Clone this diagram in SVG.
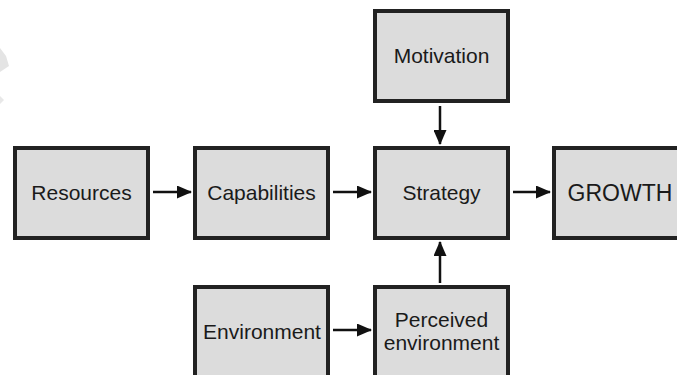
<svg xmlns="http://www.w3.org/2000/svg" width="677" height="375" viewBox="0 0 677 375">
<style>
.box{fill:#dcdcdc;stroke:#222;stroke-width:4}
.lbl{font-family:"Liberation Sans",Arial,sans-serif;font-size:21px;fill:#1a1a1a;text-anchor:middle}
.big{font-size:23px}
.edge{stroke:#111;stroke-width:2.5;fill:none;marker-end:url(#ah)}
</style>
<defs>
<marker id="ah" viewBox="0 0 15 13" refX="14" refY="6.5" markerWidth="15" markerHeight="13" markerUnits="userSpaceOnUse" orient="auto">
<path d="M0,0 L15,6.5 L0,13 Z" fill="#111"/>
</marker>
</defs>
<rect width="677" height="375" fill="#fff"/>
<path d="M0,48 L6,56 L9,66 L0,72 Z" fill="#e4e4e4"/>
<path d="M0,96 L4,100 L0,104 Z" fill="#e8e8e8"/>
<g id="resources"><rect class="box" x="15" y="148" width="133" height="90"/><text class="lbl" x="81.5" y="200">Resources</text></g>
<g id="capabilities"><rect class="box" x="195" y="148" width="133" height="90"/><text class="lbl" x="261.5" y="200">Capabilities</text></g>
<g id="strategy"><rect class="box" x="375" y="148" width="133" height="90"/><text class="lbl" x="441.5" y="200">Strategy</text></g>
<g id="growth"><rect class="box" x="554" y="148" width="133" height="90"/><text class="lbl big" x="620" y="201">GROWTH</text></g>
<g id="motivation"><rect class="box" x="375" y="11" width="133" height="90"/><text class="lbl" x="441.5" y="63">Motivation</text></g>
<g id="environment"><rect class="box" x="195" y="287" width="133" height="90"/><text class="lbl" x="262" y="339">Environment</text></g>
<g id="perceived"><rect class="box" x="375" y="287" width="133" height="90"/><text class="lbl" x="441.5" y="327">Perceived</text><text class="lbl" x="441.5" y="350">environment</text></g>
<g id="connectors">
<line class="edge" x1="153" y1="192" x2="191" y2="192"/>
<line class="edge" x1="333" y1="192" x2="371" y2="192"/>
<line class="edge" x1="513" y1="192" x2="550" y2="192"/>
<line class="edge" x1="440" y1="106" x2="440" y2="144"/>
<line class="edge" x1="440" y1="283" x2="440" y2="242"/>
<line class="edge" x1="333" y1="330" x2="371" y2="330"/>
</g>
</svg>
